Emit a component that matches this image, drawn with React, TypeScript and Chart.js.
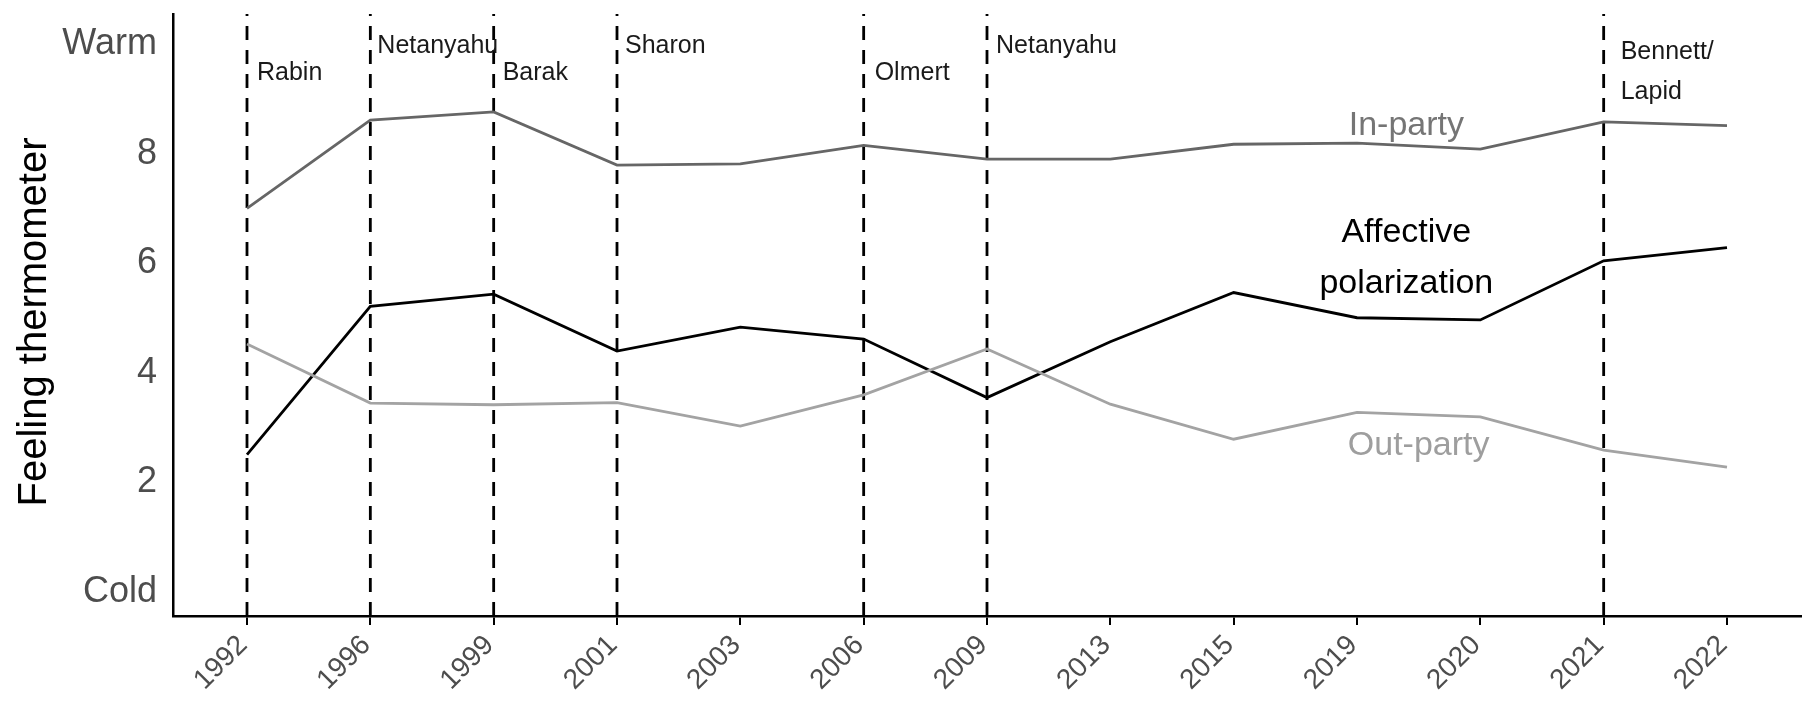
import React, { useEffect, useRef } from "react";
import { Chart, registerables } from "chart.js";

Chart.register(...registerables);

// ---------------- data ----------------
const years = ["1992", "1996", "1999", "2001", "2003", "2006", "2009", "2013", "2015", "2019", "2020", "2021", "2022"];
const inParty = [6.95, 8.56, 8.71, 7.74, 7.76, 8.1, 7.85, 7.85, 8.12, 8.14, 8.03, 8.53, 8.46];
const outParty = [4.47, 3.39, 3.36, 3.4, 2.97, 3.54, 4.38, 3.37, 2.73, 3.22, 3.14, 2.53, 2.22];
const affective = [2.45, 5.16, 5.38, 4.34, 4.78, 4.56, 3.49, 4.51, 5.41, 4.95, 4.91, 5.99, 6.23];

const yTickValues = [0, 2, 4, 6, 8, 10];
const yTickLabels = ["Cold", "2", "4", "6", "8", "Warm"];

const eventYears = ["1992", "1996", "1999", "2001", "2006", "2009", "2021"];
const eventLabels = [["Rabin"], ["Netanyahu"], ["Barak"], ["Sharon"], ["Olmert"], ["Netanyahu"], ["Bennett/", "Lapid"]];

const yTitle = "Feeling thermometer";

// ---------------- layout / style (not data) ----------------
const FONT = '"Liberation Sans", Arial, Helvetica, sans-serif';
// baseline positions of event labels in y-units, and x offsets in px
const eventLabelBaselines = [[9.3], [9.79], [9.3], [9.79], [9.3], [9.79], [9.67, 8.95]];
const eventLabelDx = [10, 7, 9, 8, 11, 9, 17];

const seriesLabels = [
  { lines: ["In-party"], x: 9.4, baselines: [8.28], color: "#757575" },
  { lines: ["Affective", "polarization"], x: 9.4, baselines: [6.34, 5.4], color: "#000000" },
  { lines: ["Out-party"], x: 9.5, baselines: [2.45], color: "#9e9e9e" },
];

const annotationPlugin = {
  id: "annotations",
  beforeDatasetsDraw(chart: any) {
    const { ctx, chartArea, scales } = chart;
    const x = scales.x;
    ctx.save();
    ctx.strokeStyle = "#000";
    ctx.lineWidth = 2.8;
    ctx.setLineDash([14, 10]);
    eventYears.forEach((yr) => {
      const px = x.getPixelForValue(years.indexOf(yr));
      ctx.beginPath();
      ctx.moveTo(px, chartArea.bottom);
      ctx.lineTo(px, chartArea.top);
      ctx.stroke();
    });
    ctx.restore();
  },
  afterDatasetsDraw(chart: any) {
    const { ctx, scales, chartArea } = chart;
    const x = scales.x;
    const y = scales.y;
    ctx.save();
    ctx.textAlign = "left";
    ctx.textBaseline = "alphabetic";
    ctx.fillStyle = "#1a1a1a";
    ctx.font = `25px ${FONT}`;
    eventYears.forEach((yr, i) => {
      const px = x.getPixelForValue(years.indexOf(yr)) + eventLabelDx[i];
      eventLabels[i].forEach((line, j) => {
        ctx.fillText(line, px, y.getPixelForValue(eventLabelBaselines[i][j]));
      });
    });
    ctx.textAlign = "center";
    ctx.font = `34px ${FONT}`;
    seriesLabels.forEach((s) => {
      ctx.fillStyle = s.color;
      const px = x.getPixelForValue(s.x);
      s.lines.forEach((line, j) => {
        ctx.fillText(line, px, y.getPixelForValue(s.baselines[j]));
      });
    });
    // y-axis title
    ctx.fillStyle = "#000";
    ctx.font = `40px ${FONT}`;
    ctx.textBaseline = "middle";
    ctx.translate(35, (chartArea.top + chartArea.bottom) / 2 + 7);
    ctx.rotate(-Math.PI / 2);
    ctx.fillText(yTitle, 0, 0);
    ctx.restore();
  },
};

export default function App() {
  const ref = useRef<HTMLCanvasElement | null>(null);

  useEffect(() => {
    if (!ref.current) return;
    const toXY = (arr: number[]) => arr.map((v, i) => ({ x: i, y: v }));
    const chart = new Chart(ref.current, {
      type: "line",
      data: {
        datasets: [
          { label: "In-party", data: toXY(inParty), borderColor: "#666666", borderWidth: 2.8, pointRadius: 0, tension: 0 },
          { label: "Out-party", data: toXY(outParty), borderColor: "#a3a3a3", borderWidth: 2.8, pointRadius: 0, tension: 0 },
          { label: "Affective polarization", data: toXY(affective), borderColor: "#000000", borderWidth: 2.8, pointRadius: 0, tension: 0 },
        ],
      },
      options: {
        animation: false,
        responsive: false,
        layout: { padding: { top: 14, right: 4, left: 0, bottom: 0 } },
        plugins: { legend: { display: false }, tooltip: { enabled: false } },
        scales: {
          x: {
            type: "linear",
            min: -0.6,
            max: 12.6,
            afterBuildTicks: (s: any) => {
              s.ticks = years.map((_, i) => ({ value: i }));
            },
            afterFit: (s: any) => {
              s.height = 105;
              s.paddingLeft = 0;
              s.paddingRight = 0;
            },
            grid: { drawOnChartArea: false, drawTicks: true, tickLength: 9, color: "#000", lineWidth: 2 },
            border: { display: true, color: "#000", width: 2.5 },
            ticks: {
              autoSkip: false,
              maxRotation: 45,
              minRotation: 45,
              padding: 4,
              labelOffset: -4,
              color: "#4d4d4d",
              font: { size: 28, family: FONT },
              callback: (v: any) => years[v] ?? "",
            },
          },
          y: {
            type: "linear",
            min: -0.5,
            max: 10.5,
            afterBuildTicks: (s: any) => {
              s.ticks = yTickValues.map((v) => ({ value: v }));
            },
            afterFit: (s: any) => {
              s.width = 173;
              s.paddingTop = 0;
              s.paddingBottom = 0;
            },
            grid: { display: false, drawTicks: false },
            border: { display: true, color: "#000", width: 2.5 },
            ticks: {
              padding: 16,
              labelOffset: 3,
              color: "#4d4d4d",
              font: { size: 36, family: FONT },
              callback: (v: any) => {
                const i = yTickValues.indexOf(v);
                return i >= 0 ? yTickLabels[i] : "";
              },
            },
            title: { display: false },
          },
        },
      },
      plugins: [annotationPlugin],
    } as any);
    return () => chart.destroy();
  }, []);

  return (
    <div style={{ position: "absolute", left: 0, top: 0, width: 1805, height: 721, background: "#fff" }}>
      <canvas ref={ref} width={1805} height={721} style={{ display: "block" }} />
    </div>
  );
}
